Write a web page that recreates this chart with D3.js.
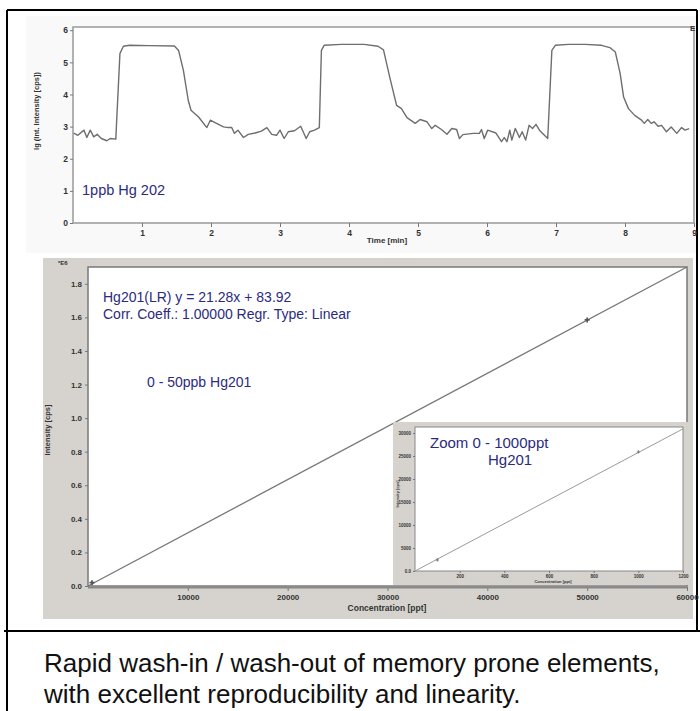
<!DOCTYPE html>
<html><head><meta charset="utf-8">
<script src="https://cdn.jsdelivr.net/npm/d3@7"></script>
<style>
body{margin:0;background:#fff}
svg{display:block}
text{font-family:"Liberation Sans",Arial,sans-serif}
</style>
</head><body>
<svg id="c" width="700" height="711"></svg>
<script>
// ---------- DATA ----------
const timeMin = [0.01,0.07,0.16,0.20,0.25,0.30,0.35,0.41,0.49,0.54,0.62,0.68,0.73,0.82,1.10,1.47,1.53,1.60,1.67,1.71,1.82,1.94,1.99,2.08,2.18,2.25,2.30,2.34,2.39,2.47,2.54,2.64,2.73,2.81,2.88,2.95,3.00,3.06,3.12,3.21,3.30,3.38,3.43,3.50,3.57,3.60,3.64,3.89,4.22,4.42,4.50,4.59,4.69,4.76,4.84,4.96,5.03,5.13,5.20,5.25,5.34,5.42,5.49,5.56,5.60,5.65,5.80,5.89,5.92,5.96,6.01,6.13,6.21,6.25,6.29,6.33,6.36,6.41,6.47,6.51,6.56,6.61,6.66,6.71,6.76,6.88,6.94,6.99,7.18,7.42,7.66,7.78,7.86,7.93,7.98,8.05,8.14,8.24,8.28,8.33,8.38,8.42,8.48,8.53,8.60,8.67,8.75,8.82,8.87,8.93];
const lgIntensity = [2.80,2.73,2.89,2.66,2.89,2.68,2.76,2.63,2.56,2.63,2.61,5.27,5.50,5.53,5.52,5.51,5.37,4.75,3.82,3.51,3.30,2.97,3.20,3.10,2.99,2.97,2.97,2.79,2.89,2.66,2.76,2.80,2.86,2.97,2.76,2.73,2.89,2.63,2.84,2.87,3.01,2.63,2.84,2.89,2.97,5.37,5.53,5.56,5.56,5.50,5.39,4.54,3.66,3.56,3.28,3.10,3.22,3.15,2.94,3.04,2.91,2.76,2.94,2.91,2.63,2.75,2.79,2.79,2.91,2.63,2.89,2.80,2.53,2.66,2.53,2.89,2.58,2.94,2.66,2.84,2.58,3.04,2.94,3.07,2.89,2.63,5.37,5.53,5.56,5.56,5.53,5.46,5.32,4.65,3.92,3.56,3.35,3.20,3.10,3.22,3.10,3.15,3.01,3.04,2.84,2.99,2.79,2.97,2.89,2.94];
const topXTicks = [1,2,3,4,5,6,7,8,9];
const topYTicks = [0,1,2,3,4,5,6];

const calConc = [0, 50000];            // ppt, main calibration points shown
const calIntE6 = [0.002, 1.585];       // intensity *E6
const fitX = [0, 60000];
const fitYE6 = [0, 1.90];
const mainXTicks = [10000,20000,30000,40000,50000,60000];
const mainYTicks = [0.0,0.2,0.4,0.6,0.8,1.0,1.2,1.4,1.6,1.8];

const zoomConc = [100, 1000];
const zoomInt = [2400, 25870];
const zoomFitX = [0, 1200];
const zoomFitY = [0, 30900];
const zoomXTicks = [200,400,600,800,1000,1200];
const zoomYTicks = [0,5000,10000,15000,20000,25000,30000];

// ---------- DRAW ----------
const svg = d3.select("#c");
const navy = "#2b2b7e";
const tickCol = "#333";

// outer frame
svg.append("rect").attr("x",26).attr("y",16).attr("width",670).attr("height",237).attr("fill","#f9f9f9");
const frame = [[7,10,697,10],[7,10,7,711],[697,10,697,631],[4,631,700,631]];
frame.forEach(f=>svg.append("line").attr("x1",f[0]).attr("y1",f[1]).attr("x2",f[2]).attr("y2",f[3]).attr("stroke","#000").attr("stroke-width",2));

function styleAxis(g, size){
  g.select(".domain").remove();
  g.selectAll(".tick line").attr("stroke","#777");
  g.selectAll(".tick text").attr("fill",tickCol).attr("font-size",size).attr("font-weight","bold");
}

// ===== TOP CHART =====
const xT = d3.scaleLinear([0,9],[73,694]);
const yT = d3.scaleLinear([0,6.1],[223,27]);
svg.append("rect").attr("x",73).attr("y",27).attr("width",621).attr("height",196).attr("fill","#fff").attr("stroke","#999").attr("stroke-width",1.5);
const gTX = svg.append("g").attr("transform","translate(0,223)").call(d3.axisBottom(xT).tickValues(topXTicks).tickSize(4).tickPadding(3).tickFormat(d3.format("d")));
styleAxis(gTX,8.5);
const gTY = svg.append("g").attr("transform","translate(73,0)").call(d3.axisLeft(yT).tickValues(topYTicks).tickSize(3).tickPadding(2).tickFormat(d3.format("d")));
styleAxis(gTY,8.5);
svg.append("path").datum(timeMin.map((t,i)=>[t,lgIntensity[i]]))
  .attr("d",d3.line().x(d=>xT(d[0])).y(d=>yT(d[1])))
  .attr("fill","none").attr("stroke","#6e6e6e").attr("stroke-width",1.4).attr("stroke-linejoin","round");
svg.append("text").attr("x",387).attr("y",243).attr("text-anchor","middle").attr("font-size",8).attr("font-weight","bold").attr("fill",tickCol).text("Time [min]");
svg.append("text").attr("transform","translate(39,111) rotate(-90)").attr("text-anchor","middle").attr("font-size",7.5).attr("font-weight","bold").attr("fill",tickCol).text("lg (Int. Intensity [cps])");
svg.append("text").attr("x",690).attr("y",31).attr("font-size",8).attr("font-weight","bold").attr("fill",tickCol).text("E");
svg.append("text").attr("x",82).attr("y",195).attr("font-size",14.5).attr("fill",navy).text("1ppb Hg 202");

// ===== MAIN CALIBRATION CHART =====
svg.append("rect").attr("x",43).attr("y",258).attr("width",650).attr("height",361).attr("fill","#d6d3ce");
const xB = d3.scaleLinear([0,60000],[88,687]);
const yB = d3.scaleLinear([0,1.9],[586,267]);
svg.append("rect").attr("x",88).attr("y",267).attr("width",599).attr("height",319).attr("fill","#fff").attr("stroke","#7a7a7a").attr("stroke-width",1.5);
const gBX = svg.append("g").attr("transform","translate(0,587)").call(d3.axisBottom(xB).tickValues(mainXTicks).tickSize(4).tickPadding(3).tickFormat(d3.format("d")));
styleAxis(gBX,8);
const gBY = svg.append("g").attr("transform","translate(88,0)").call(d3.axisLeft(yB).tickValues(mainYTicks).tickSize(3).tickPadding(3).tickFormat(d3.format(".1f")));
styleAxis(gBY,8);
svg.append("line").attr("x1",88).attr("x2",687).attr("y1",587.5).attr("y2",587.5).attr("stroke","#888").attr("stroke-width",2);
svg.append("path").datum(fitX.map((x,i)=>[x,fitYE6[i]]))
  .attr("d",d3.line().x(d=>xB(d[0])).y(d=>yB(d[1])))
  .attr("stroke","#777").attr("stroke-width",1.3).attr("fill","none");
calConc.forEach((c,i)=>{
  svg.append("path").attr("transform",`translate(${xB(c)+ (i===0?4:0)},${yB(calIntE6[i])-(i===0?3:0)})`)
    .attr("d",d3.symbol(d3.symbolCross,14)()).attr("fill","#555");
});
svg.append("text").attr("x",58).attr("y",265).attr("font-size",6).attr("font-weight","bold").attr("fill",tickCol).text("*E6");
svg.append("text").attr("x",387).attr("y",611).attr("text-anchor","middle").attr("font-size",8.5).attr("font-weight","bold").attr("fill",tickCol).text("Concentration [ppt]");
svg.append("text").attr("transform","translate(50,430) rotate(-90)").attr("text-anchor","middle").attr("font-size",7.5).attr("font-weight","bold").attr("fill",tickCol).text("Intensity [cps]");
svg.append("text").attr("x",103).attr("y",302).attr("font-size",14).attr("fill",navy).text("Hg201(LR) y = 21.28x + 83.92");
svg.append("text").attr("x",103).attr("y",319).attr("font-size",14).attr("fill",navy).text("Corr. Coeff.: 1.00000 Regr. Type: Linear");
svg.append("text").attr("x",147).attr("y",387).attr("font-size",14).attr("fill",navy).text("0 - 50ppb Hg201");

// ===== ZOOM INSET =====
svg.append("rect").attr("x",393).attr("y",422).attr("width",297).attr("height",163).attr("fill","#d6d3ce");
const xI = d3.scaleLinear([0,1200],[415,683]);
const yI = d3.scaleLinear([0,31300],[571,427]);
svg.append("rect").attr("x",415).attr("y",427).attr("width",268).attr("height",144).attr("fill","#fff").attr("stroke","#888").attr("stroke-width",1);
const gIX = svg.append("g").attr("transform","translate(0,571)").call(d3.axisBottom(xI).tickValues(zoomXTicks).tickSize(2).tickPadding(2).tickFormat(d3.format("d")));
styleAxis(gIX,4.5);
const gIY = svg.append("g").attr("transform","translate(415,0)").call(d3.axisLeft(yI).tickValues(zoomYTicks).tickSize(2).tickPadding(2).tickFormat(d=>d===0?"0.0":d3.format("d")(d)));
styleAxis(gIY,4.5);
svg.append("path").datum(zoomFitX.map((x,i)=>[x,zoomFitY[i]]))
  .attr("d",d3.line().x(d=>xI(d[0])).y(d=>yI(d[1])))
  .attr("stroke","#9a9a9a").attr("stroke-width",1).attr("fill","none");
zoomConc.forEach((c,i)=>{
  svg.append("path").attr("transform",`translate(${xI(c)},${yI(zoomInt[i])})`)
    .attr("d",d3.symbol(d3.symbolCross,6)()).attr("fill","#777");
});
svg.append("text").attr("x",553).attr("y",583).attr("text-anchor","middle").attr("font-size",4).attr("font-weight","bold").attr("fill",tickCol).text("Concentration [ppt]");
svg.append("text").attr("transform","translate(399,494) rotate(-90)").attr("text-anchor","middle").attr("font-size",4).attr("font-weight","bold").attr("fill",tickCol).text("Intensity [cps]");
svg.append("text").attr("x",430).attr("y",448).attr("font-size",15).attr("fill",navy).text("Zoom 0 - 1000ppt");
svg.append("text").attr("x",488).attr("y",465).attr("font-size",15).attr("fill",navy).text("Hg201");

// ===== CAPTION =====
svg.append("text").attr("x",44).attr("y",672).attr("font-size",26).attr("fill","#111").text("Rapid wash-in / wash-out of memory prone elements,");
svg.append("text").attr("x",44).attr("y",703).attr("font-size",26).attr("fill","#111").text("with excellent reproducibility and linearity.");
</script>
</body></html>
